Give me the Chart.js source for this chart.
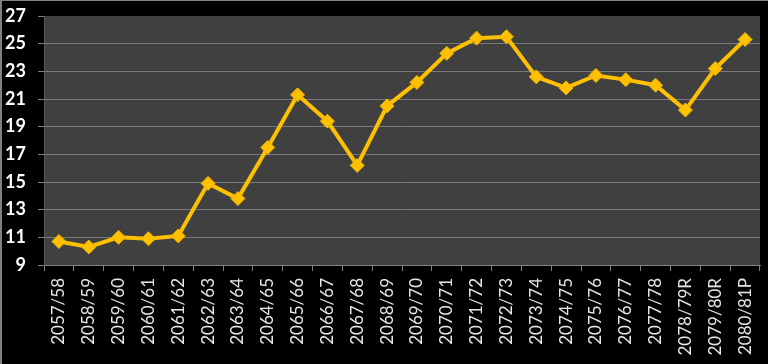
<!DOCTYPE html>
<html>
<head>
<meta charset="utf-8">
<script src="https://cdn.jsdelivr.net/npm/chart.js@4/dist/chart.umd.min.js"></script>
<style>
  html, body { margin: 0; padding: 0; background: #000; }
  #wrap { width: 768px; height: 364px; box-sizing: border-box; border-top: 1px solid #808080; border-left: 2px solid #808080; background: #000; position: relative; }
  #c { display: block; }
</style>
</head>
<body>
<div id="wrap"><canvas id="c" width="766" height="363"></canvas></div>
<script>
const categories = ['2057/58','2058/59','2059/60','2060/61','2061/62','2062/63','2063/64','2064/65','2065/66','2066/67','2067/68','2068/69','2069/70','2070/71','2071/72','2072/73','2073/74','2074/75','2075/76','2076/77','2077/78','2078/79R','2079/80R','2080/81P'];
const values = [10.7, 10.3, 11.0, 10.9, 11.1, 14.9, 13.8, 17.5, 21.3, 19.4, 16.2, 20.5, 22.2, 24.3, 25.4, 25.5, 22.6, 21.8, 22.7, 22.4, 22.0, 20.2, 23.2, 25.3];
const yMin = 9, yMax = 27, yStep = 2;

const plotBg = {
  id: 'plotBg',
  beforeDraw(chart) {
    const {ctx, chartArea: a} = chart;
    ctx.save();
    ctx.fillStyle = '#404040';
    ctx.fillRect(a.left, a.top, a.right - a.left, a.bottom - a.top);
    ctx.restore();
  }
};

new Chart(document.getElementById('c'), {
  type: 'line',
  data: {
    labels: categories,
    datasets: [{
      data: values,
      borderColor: '#FFC000',
      backgroundColor: '#FFC000',
      borderWidth: 4,
      pointStyle: 'rectRot',
      pointRadius: 7,
      pointHoverRadius: 7,
      pointBackgroundColor: '#FFC000',
      pointBorderColor: '#EDB200',
      pointBorderWidth: 1,
      tension: 0
    }]
  },
  options: {
    responsive: false,
    animation: false,
    devicePixelRatio: 1,
    layout: { padding: { top: 15, right: 8, left: 1, bottom: 0 } },
    plugins: { legend: { display: false }, tooltip: { enabled: false } },
    scales: {
      x: {
        type: 'category',
        offset: true,
        afterFit(scale) { scale.height = 99; scale.paddingLeft = 0; scale.paddingRight = 0; },
        grid: { offset: true, drawOnChartArea: false, drawTicks: true, tickLength: 6, color: '#808080' },
        border: { display: true, color: '#808080', width: 1 },
        ticks: {
          minRotation: 90, maxRotation: 90, autoSkip: false, padding: 7,
          color: '#e6e6e6',
          font: { family: 'Lato', size: 17, weight: 'normal' }
        }
      },
      y: {
        min: yMin, max: yMax,
        afterFit(scale) { scale.width = 41; scale.paddingTop = 0; scale.paddingBottom = 0; },
        grid: {
          color: (ctx) => (ctx.tick && ctx.tick.value === yMax) ? 'rgba(0,0,0,0)' : '#7a7a7a',
          tickColor: '#808080',
          tickLength: 6,
          lineWidth: 1
        },
        border: { display: true, color: '#5a5a5a', width: 1 },
        ticks: {
          stepSize: yStep, padding: 12,
          color: '#ffffff',
          font: { family: 'Lato', size: 18, weight: 'bold' }
        }
      }
    }
  },
  plugins: [plotBg]
});
</script>
</body>
</html>
